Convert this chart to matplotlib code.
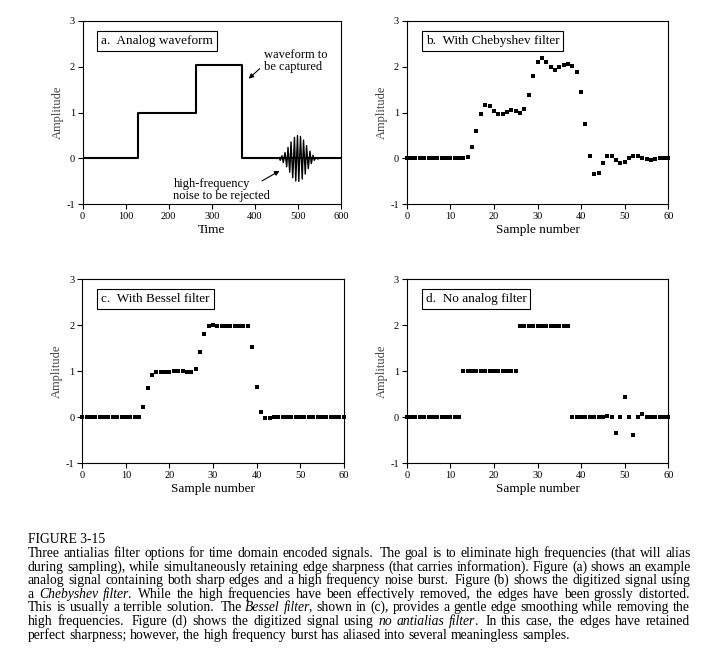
import numpy as np
import matplotlib
matplotlib.use("Agg")
import matplotlib.pyplot as plt

plt.rcParams['font.family'] = ['Liberation Serif', 'DejaVu Serif']
plt.rcParams['axes.unicode_minus'] = False

# panel a: analog waveform (step levels) and the noise burst (extrema)
step_t = [0, 128, 263, 370, 600]
step_v = [0, 1.0, 2.03, 0, 0]
burst_t = [452, 456, 459, 463, 466, 470, 474, 477, 481, 484, 488, 492, 495, 499,
           502, 506, 510, 513, 517, 520, 524, 528, 531, 535, 538, 542, 546, 549]
burst_v = [0, 0.02, -0.04, 0.06, -0.09, 0.13, -0.18, 0.24, -0.30, 0.36, -0.42, 0.46, -0.49, 0.50,
           -0.50, 0.48, -0.45, 0.40, -0.34, 0.28, -0.22, 0.16, -0.11, 0.07, -0.04, 0.02, -0.01, 0]

# panels b-d: samples 0..60
samples = np.arange(61)
cheb = [0] * 14 + [0.04, 0.24, 0.61, 0.96, 1.16, 1.14, 1.04, 0.96, 0.96, 1.02, 1.05, 1.03, 1.00,
                   1.09, 1.38, 1.80, 2.11, 2.19, 2.11, 1.99, 1.93, 1.99, 2.05, 2.06, 2.01, 1.89,
                   1.46, 0.75, 0.06, -0.33, -0.31, -0.10, 0.06, 0.06, -0.04, -0.09, -0.07, 0.00,
                   0.05, 0.05, 0.01, -0.02, -0.03, -0.01, 0.01, 0.00, 0.00]
bessel = [0] * 14 + [0.22, 0.64, 0.92, 0.99, 0.99, 0.99, 0.99, 1.0, 1.0, 1.0, 0.99, 0.99, 1.05,
                     1.43, 1.81, 1.99, 2.0] + [1.98] * 8 + [1.53, 0.66, 0.12, -0.02, -0.02] + [0] * 17
nofilt = [0] * 13 + [1.0] * 13 + [1.98] * 12 + [0] * 8 + \
         [0.03, 0, -0.34, 0, 0.44, 0, -0.39, 0, 0.07] + [0] * 6

labels = ["a.  Analog waveform", "b.  With Chebyshev filter",
          "c.  With Bessel filter", "d.  No analog filter"]

caption_title = "FIGURE 3-15"
caption_lines = [
    "Three antialias filter options for time domain encoded signals.  The goal is to eliminate high frequencies (that will alias",
    "during sampling), while simultaneously retaining edge sharpness (that carries information). Figure (a) shows an example",
    "analog signal containing both sharp edges and a high frequency noise burst.  Figure (b) shows the digitized signal using",
    "a _Chebyshev filter_.  While the high frequencies have been effectively removed, the edges have been grossly distorted.",
    "This is usually a terrible solution.  The _Bessel filter_, shown in (c), provides a gentle edge smoothing while removing the",
    "high frequencies.  Figure (d) shows the digitized signal using _no antialias filter_.  In this case, the edges have retained",
    "perfect sharpness; however, the high frequency burst has aliased into several meaningless samples.",
]

W, H = 706, 672
fig = plt.figure(figsize=(W / 100, H / 100), dpi=100)


def px_axes(x0, x1, y_top, y_bot):
    return fig.add_axes([x0 / W, 1 - y_bot / H, (x1 - x0) / W, (y_bot - y_top) / H])


axa = px_axes(82.5, 341, 21, 204.3)
axb = px_axes(406.7, 668.3, 21, 204.3)
axc = px_axes(82.3, 343.7, 279.3, 463.3)
axd = px_axes(406.7, 668.3, 279.3, 463.3)

for ax, lab in zip([axa, axb, axc, axd], labels):
    ax.set_ylim(-1, 3)
    ax.set_yticks([-1, 0, 1, 2, 3])
    ax.tick_params(direction='out', length=3.5, width=0.8, labelsize=7.5, pad=2)
    for sp in ax.spines.values():
        sp.set_linewidth(0.8)
    ax.set_ylabel("Amplitude", fontsize=9, color='#444444', labelpad=2)
    ax.text(0.072, 0.892, lab, transform=ax.transAxes, fontsize=9.5, ha='left', va='center',
            bbox=dict(boxstyle='square,pad=0.3', fc='white', ec='black', lw=0.8))

axa.step(step_t, step_v, where='post', color='black', lw=1.5)
axa.plot(burst_t, burst_v, color='black', lw=1.0)
axa.set_xlim(0, 600)
axa.set_xticks(range(0, 601, 100))
axa.set_xlabel("Time", fontsize=9.5, labelpad=2.5)
axa.text(421, 2.39, "waveform to\nbe captured", fontsize=9, ha='left', va='top', linespacing=0.95)
axa.annotate("", xy=(381, 1.70), xytext=(416, 2.0),
             arrowprops=dict(arrowstyle='-|>', lw=0.8, color='black', mutation_scale=7))
axa.text(211, -0.43, "high-frequency\nnoise to be rejected", fontsize=9, ha='left', va='top',
         linespacing=0.95)
axa.annotate("", xy=(463, -0.24), xytext=(411, -0.52),
             arrowprops=dict(arrowstyle='-|>', lw=0.8, color='black', mutation_scale=7))

for ax, vals in zip([axb, axc, axd], [cheb, bessel, nofilt]):
    ax.plot(samples, vals, 's', color='black', ms=2.9, mew=0, clip_on=False)
    ax.set_xlim(0, 60)
    ax.set_xticks(range(0, 61, 10))
    ax.set_xlabel("Sample number", fontsize=9.5, labelpad=2.5)

# caption, justified line by line (one text per word)
fs = 9.8
left, right = 28, 691
renderer = fig.canvas.get_renderer()


def put(x, y, s, italic):
    return fig.text(x / W, 1 - y / H, s, fontsize=fs, ha='left', va='baseline',
                    fontstyle='italic' if italic else 'normal')


def width(t):
    return t.get_window_extent(renderer=renderer).width


def snap_baseline(t, y_top):
    # Agg rounds each bitmap by its own descent; shift so all words share one baseline row
    w, h, d = renderer.get_text_width_height_descent(t.get_text(), t.get_fontproperties(), ismath=False)
    n = y_top + int(h) - int(h - d)
    t.set_y(1 - (n - d) / H)


put(left, 543, caption_title, False)
t1 = put(0, -50, "x x", False)
t2 = put(0, -50, "xx", False)
space_w = width(t1) - width(t2)
t1.remove()
t2.remove()

y = 557
for i, line in enumerate(caption_lines):
    italic = False
    words = []
    gap = 0
    for tok in line.split(' '):
        if tok == '':
            gap += 1
            continue
        pieces = []
        for j, part in enumerate(tok.split('_')):
            if j > 0:
                italic = not italic
            if part:
                pieces.append((part, italic))
        words.append((pieces, gap if words else 0))
        gap = 1
    weights = [0 if g == 0 else (1.0 if g == 1 else 1.6) for _, g in words]
    drawn = []
    total = 0
    for pieces, g in words:
        objs = []
        for s, it in pieces:
            t = put(0, y, s, it)
            objs.append((t, width(t), it))
            total += objs[-1][1]
        drawn.append(objs)
    if i < len(caption_lines) - 1:
        unit = (right - left - total) / sum(weights)
    else:
        unit = space_w
    x = left
    for objs, wgt in zip(drawn, weights):
        x += wgt * unit
        for k, (t, w, it) in enumerate(objs):
            if k > 0 and objs[k - 1][2] and not it:
                x -= 1.2  # tuck punctuation under the italic overhang
            t.set_x(x / W)
            snap_baseline(t, round(y))
            x += w
    y += 13.6

fig.savefig("out.png", dpi=100)
